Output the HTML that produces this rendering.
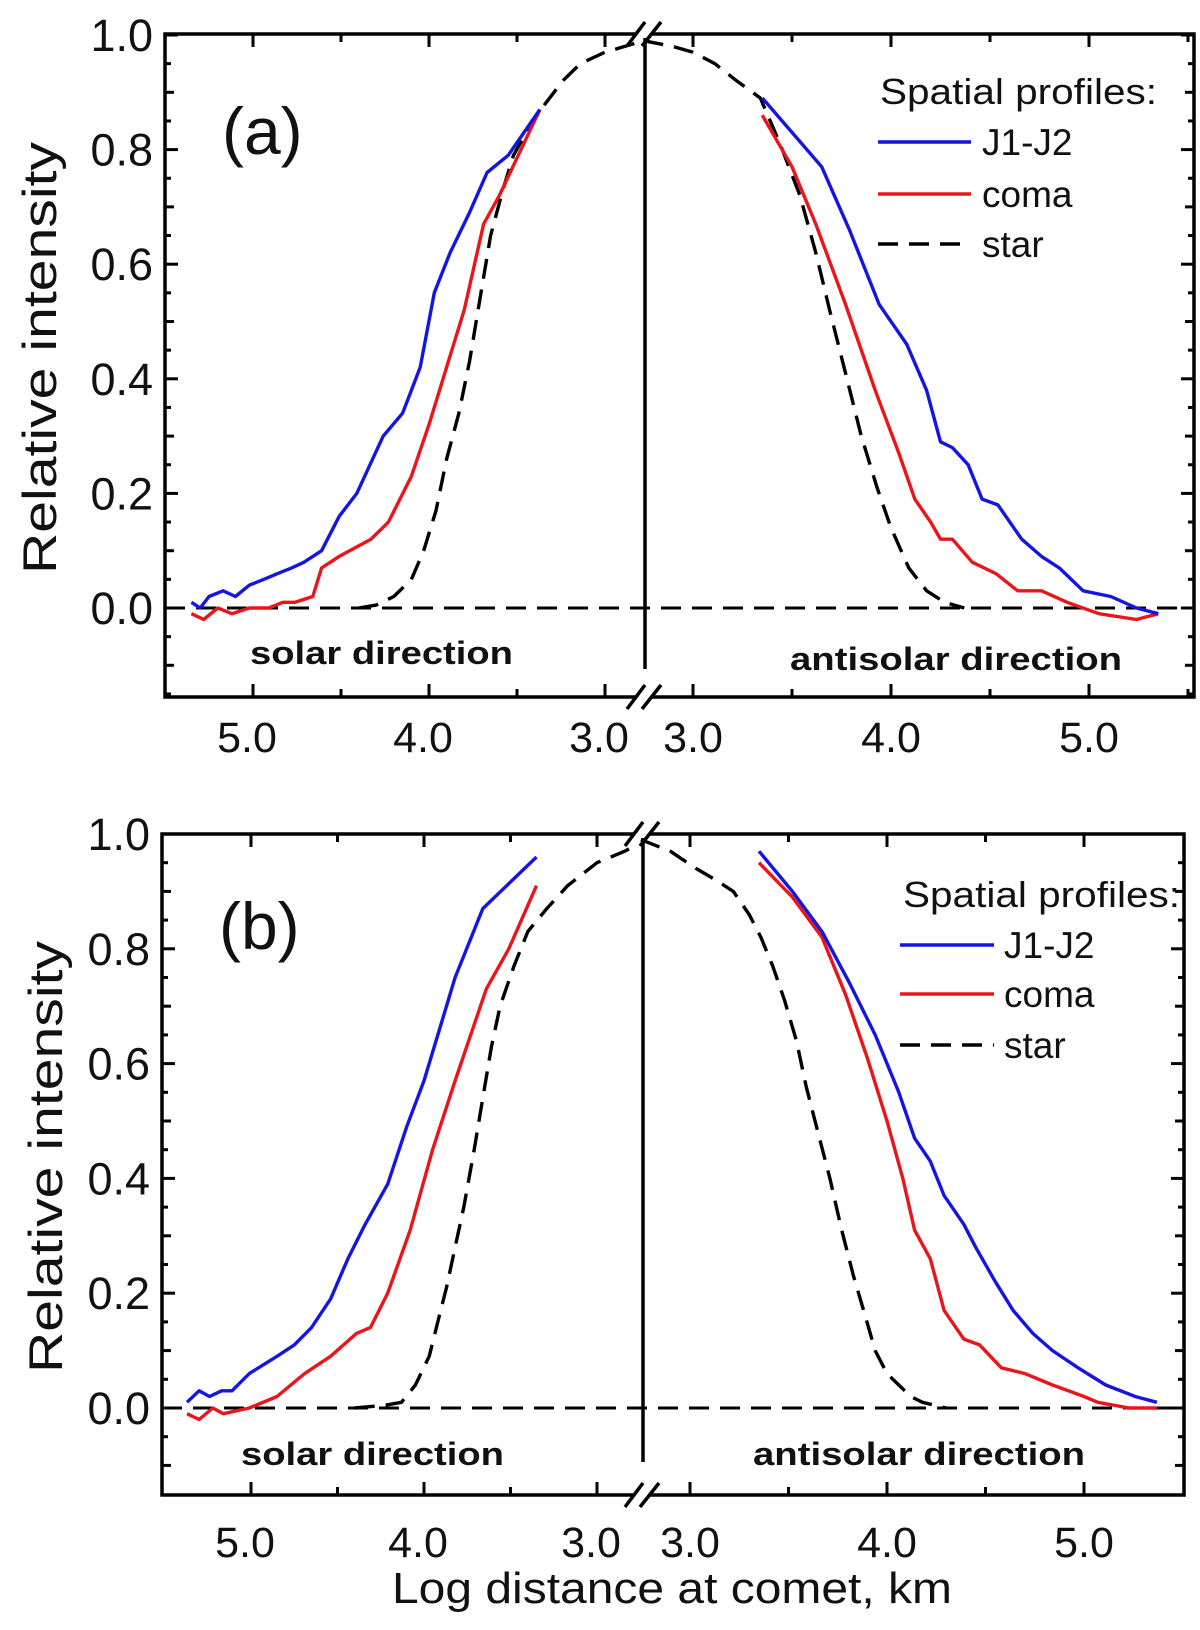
<!DOCTYPE html>
<html><head><meta charset="utf-8"><style>
html,body{margin:0;padding:0;background:#fff;}
svg{display:block;font-family:"Liberation Sans",sans-serif;}
</style></head><body>
<svg id="chart" width="1200" height="1630" viewBox="0 0 1200 1630" xmlns="http://www.w3.org/2000/svg"></svg>
<script>
// ---- data (log distance, relative intensity) ----
const yTickLabels = ["0.0","0.2","0.4","0.6","0.8","1.0"];
const yTickValues = [0,0.2,0.4,0.6,0.8,1.0];
const xTickLabels = ["3.0","4.0","5.0"];
const xTickValues = [3,4,5];

const aBlueLeftX = [5.35,5.30,5.25,5.17,5.10,5.02,4.94,4.86,4.78,4.71,4.61,4.51,4.41,4.26,4.15,4.05,3.97,3.88,3.77,3.67,3.55,3.37];
const aBlueLeftY = [0.01,0.00,0.02,0.03,0.02,0.04,0.05,0.06,0.07,0.08,0.10,0.16,0.20,0.30,0.34,0.42,0.55,0.62,0.69,0.76,0.79,0.87];
const aRedLeftX = [5.35,5.28,5.20,5.12,5.02,4.91,4.83,4.76,4.66,4.61,4.51,4.33,4.23,4.10,4.00,3.90,3.80,3.69,3.60,3.37];
const aRedLeftY = [-0.01,-0.02,0.00,-0.01,0.00,0.00,0.01,0.01,0.02,0.07,0.09,0.12,0.15,0.23,0.32,0.42,0.52,0.67,0.72,0.87];
const aBlueRightX = [3.35,3.50,3.65,3.79,3.94,4.08,4.18,4.25,4.31,4.39,4.46,4.54,4.66,4.76,4.85,4.97,5.11,5.24,5.35];
const aBlueRightY = [0.89,0.83,0.77,0.66,0.53,0.46,0.38,0.29,0.28,0.25,0.19,0.18,0.12,0.09,0.07,0.03,0.02,0.00,-0.01];
const aRedRightX = [3.35,3.50,3.62,3.77,3.92,4.04,4.12,4.20,4.25,4.31,4.41,4.53,4.64,4.76,4.89,5.05,5.24,5.35];
const aRedRightY = [0.86,0.77,0.67,0.53,0.38,0.27,0.19,0.15,0.12,0.12,0.08,0.06,0.03,0.03,0.01,-0.01,-0.02,-0.01];
const aStarLeftX = [4.40,4.30,4.20,4.10,4.03,3.96,3.90,3.83,3.77,3.71,3.65,3.58,3.52,3.43,3.34,3.24,3.14,3.00,2.89,2.78];
const aStarLeftY = [0.00,0.005,0.02,0.05,0.10,0.17,0.26,0.34,0.43,0.54,0.65,0.73,0.79,0.84,0.88,0.92,0.95,0.97,0.98,0.99];
const aStarRightX = [2.75,2.90,3.00,3.11,3.22,3.34,3.44,3.54,3.62,3.69,3.77,3.85,3.93,4.00,4.09,4.18,4.27,4.37];
const aStarRightY = [0.99,0.98,0.97,0.95,0.92,0.89,0.81,0.72,0.62,0.52,0.41,0.30,0.21,0.14,0.07,0.03,0.01,0.00];

const bBlueLeftX = [5.37,5.30,5.24,5.17,5.11,5.01,4.85,4.75,4.65,4.54,4.44,4.34,4.21,4.10,4.00,3.90,3.82,3.66,3.35];
const bBlueLeftY = [0.01,0.03,0.02,0.03,0.03,0.06,0.09,0.11,0.14,0.19,0.26,0.32,0.39,0.49,0.57,0.67,0.75,0.87,0.96];
const bRedLeftX = [5.37,5.30,5.22,5.16,5.01,4.85,4.69,4.54,4.39,4.31,4.21,4.08,3.95,3.82,3.64,3.51,3.35];
const bRedLeftY = [-0.01,-0.02,0.00,-0.01,0.00,0.02,0.06,0.09,0.13,0.14,0.20,0.31,0.45,0.57,0.73,0.80,0.91];
const bBlueRightX = [3.35,3.52,3.67,3.81,3.94,4.06,4.14,4.22,4.29,4.39,4.45,4.55,4.64,4.74,4.84,4.97,5.11,5.26,5.37];
const bBlueRightY = [0.97,0.90,0.83,0.74,0.65,0.55,0.47,0.43,0.37,0.32,0.28,0.22,0.17,0.13,0.10,0.07,0.04,0.02,0.01];
const bRedRightX = [3.35,3.52,3.67,3.79,3.90,4.00,4.08,4.14,4.22,4.29,4.39,4.47,4.58,4.70,4.84,5.00,5.07,5.23,5.37];
const bRedRightY = [0.95,0.89,0.82,0.72,0.61,0.50,0.40,0.31,0.26,0.17,0.12,0.11,0.07,0.06,0.04,0.02,0.01,0.00,0.00];
const bStarLeftX = [4.40,4.22,4.13,4.05,3.97,3.92,3.87,3.82,3.77,3.71,3.66,3.61,3.56,3.48,3.40,3.29,3.17,3.00,2.84,2.78];
const bStarLeftY = [0.00,0.005,0.01,0.04,0.09,0.15,0.21,0.28,0.35,0.45,0.54,0.63,0.70,0.77,0.83,0.87,0.91,0.95,0.97,0.98];
const bStarRightX = [2.75,2.90,3.03,3.13,3.22,3.30,3.36,3.42,3.48,3.54,3.59,3.65,3.71,3.77,3.83,3.89,3.94,4.00,4.06,4.12,4.18,4.30];
const bStarRightY = [0.99,0.97,0.94,0.92,0.90,0.86,0.82,0.77,0.71,0.64,0.56,0.48,0.40,0.31,0.23,0.16,0.10,0.06,0.04,0.02,0.01,0.00];

const NS = "http://www.w3.org/2000/svg";
const svg = document.getElementById("chart");
function mk(tag, attrs, parent){ const e=document.createElementNS(NS,tag); for(const k in attrs) e.setAttribute(k,attrs[k]); (parent||svg).appendChild(e); return e; }

const panels = [
 {id:"a", label:"(a)", L:165, R:1194, T:34, B:697, y0:608, y1:35, lx4:429, lu:176, rx4:891, ru:198, brk:645,
  lbx:222, lby:154, yTitleX:40, yTitleY:358, xLabY:752, solarX:250, solarY:664, antiX:790, antiY:670, vEnd:669,
  legX:880, legTY:104, legLine:[878,971], legTextX:982, legY:[142,194,244],
  bl:[aBlueLeftX,aBlueLeftY], rl:[aRedLeftX,aRedLeftY], br:[aBlueRightX,aBlueRightY], rr:[aRedRightX,aRedRightY],
  sl:[aStarLeftX,aStarLeftY], sr:[aStarRightX,aStarRightY]},
 {id:"b", label:"(b)", L:162, R:1184, T:834, B:1495, y0:1408, y1:834, lx4:424, lu:173, rx4:887, ru:197, brk:643,
  lbx:219, lby:949, yTitleX:46, yTitleY:1157, xLabY:1557, solarX:241, solarY:1465, antiX:753, antiY:1465, vEnd:1462,
  legX:903, legTY:907, legLine:[900,994], legTextX:1004, legY:[945,994,1045],
  bl:[bBlueLeftX,bBlueLeftY], rl:[bRedLeftX,bRedLeftY], br:[bBlueRightX,bBlueRightY], rr:[bRedRightX,bRedRightY],
  sl:[bStarLeftX,bStarLeftY], sr:[bStarRightX,bStarRightY]}
];

panels.forEach(p=>{
  const g = mk("g",{});
  
  
  const yS = v => p.y0 - v*(p.y0-p.y1);
  const xL = v => p.lx4 - (v-4)*p.lu;
  const xR = v => p.rx4 + (v-4)*p.ru;
  const fr = mk("rect",{x:p.L,y:p.T,width:p.R-p.L,height:p.B-p.T,fill:"none",stroke:"#000","stroke-width":3.5},g);
   
  for(let i=-3;i<=20;i++){
    const v=i*0.05; const y=yS(v); if(y>p.B-2) continue;
    const len = (i%4===0)?13:(i%2===0?9:6);
    mk("line",{x1:p.L,y1:y,x2:p.L+len,y2:y,stroke:"#000","stroke-width":3},g);
    mk("line",{x1:p.R,y1:y,x2:p.R-len,y2:y,stroke:"#000","stroke-width":3},g);
  }
  for(let i=5;i<=11;i++){
    const v=i*0.5; const len=(i%2===0)?13:8;
    [xL(v), xR(v)].forEach((x,k)=>{
      if(k===0 && (x<p.L+3 || x>p.brk-12)) return;
      if(k===1 && (x>p.R-3 || x<p.brk+12)) return;
      mk("line",{x1:x,y1:p.B,x2:x,y2:p.B-len,stroke:"#000","stroke-width":3},g);
      mk("line",{x1:x,y1:p.T,x2:x,y2:p.T+len,stroke:"#000","stroke-width":3},g);
    });
  }
  yTickValues.forEach((v,i)=>{
    const t=mk("text",{x:p.L-12,y:yS(v)+16,"font-size":45,"text-anchor":"end",fill:"#111"},g);
    t.textContent=yTickLabels[i];
     
  });
  xTickValues.forEach((v,i)=>{
    const t1=mk("text",{x:xL(v)-6,y:p.xLabY,"font-size":43,"text-anchor":"middle",fill:"#111"},g);
    t1.textContent=xTickLabels[i];
     
    const t2=mk("text",{x:xR(v),y:p.xLabY,"font-size":43,"text-anchor":"middle",fill:"#111"},g);
    t2.textContent=xTickLabels[i];
     
  });
  const yt=mk("text",{x:p.yTitleX,y:p.yTitleY,"font-size":47,"text-anchor":"middle",fill:"#111",transform:`rotate(-90 ${p.yTitleX} ${p.yTitleY})`,dy:16,textLength:432,lengthAdjust:"spacingAndGlyphs"},g);
  yt.textContent="Relative intensity";
   
  const z=mk("line",{x1:p.L,y1:yS(0),x2:p.R,y2:yS(0),stroke:"#000","stroke-width":3,"stroke-dasharray":"20 11"},g);
   
  const vl=mk("line",{x1:p.brk,y1:p.T,x2:p.brk,y2:p.vEnd,stroke:"#000","stroke-width":3.5},g);
   
  function line(arr, fx, color, dash, name){
    const d=arr[0].map((v,i)=>(i?"L":"M")+fx(v).toFixed(1)+","+yS(arr[1][i]).toFixed(1)).join(" ");
    const a={d:d,fill:"none",stroke:color,"stroke-width":3.4,"stroke-linejoin":"round"};
    if(dash) a["stroke-dasharray"]="20 11";
    const e=mk("path",a,g);
     
  }
  line(p.sl,xL,"#000",true,"star-solar");
  line(p.sr,xR,"#000",true,"star-antisolar");
  line(p.rl,xL,"#e8161b",false,"coma-solar");
  line(p.rr,xR,"#e8161b",false,"coma-antisolar");
  line(p.bl,xL,"#1515e0",false,"j1-j2-solar");
  line(p.br,xR,"#1515e0",false,"j1-j2-antisolar");
  [p.T,p.B].forEach(y=>{
    mk("rect",{x:p.brk-8,y:y-4,width:14,height:8,fill:"#fff"},g);
    const m1=mk("line",{x1:p.brk-18,y1:y+12,x2:p.brk,y2:y-12,stroke:"#000","stroke-width":3.5},g);
     
    const m2=mk("line",{x1:p.brk-3,y1:y+12,x2:p.brk+16,y2:y-12,stroke:"#000","stroke-width":3.5},g);
     
  });
  const pl=mk("text",{x:p.lbx,y:p.lby,"font-size":66,fill:"#111"},g);
  pl.textContent=p.label;  
  const s=mk("text",{x:p.solarX,y:p.solarY,"font-size":32,"font-weight":"bold",fill:"#111",textLength:263,lengthAdjust:"spacingAndGlyphs"},g);
  s.textContent="solar direction";  
  const an=mk("text",{x:p.antiX,y:p.antiY,"font-size":32,"font-weight":"bold",fill:"#111",textLength:332,lengthAdjust:"spacingAndGlyphs"},g);
  an.textContent="antisolar direction";  
  const lg=mk("g",{},g);
   
  const lt=mk("text",{x:p.legX,y:p.legTY,"font-size":36,fill:"#111",textLength:277,lengthAdjust:"spacingAndGlyphs"},lg);
  lt.textContent="Spatial profiles:";  
  [["#1515e0","J1-J2",false],["#e8161b","coma",false],["#000","star",true]].forEach((e,i)=>{
    const y=p.legY[i];
    const a={x1:p.legLine[0],y1:y,x2:p.legLine[1],y2:y,stroke:e[0],"stroke-width":3.4};
    if(e[2]) a["stroke-dasharray"]="20 11";
    const ln=mk("line",a,lg);
     
    const tx=mk("text",{x:p.legTextX,y:y+13,"font-size":37,fill:"#111"},lg);
    tx.textContent=e[1];  
  });
});
const xt=mk("text",{x:672,y:1603,"font-size":44,"text-anchor":"middle",fill:"#111",textLength:560,lengthAdjust:"spacingAndGlyphs"});
xt.textContent="Log distance at comet, km";


</script>
</body></html>
